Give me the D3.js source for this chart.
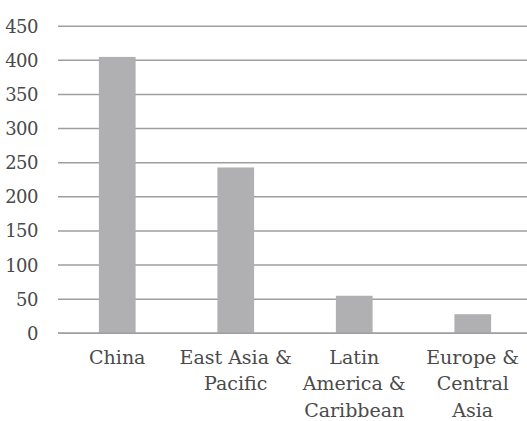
<!DOCTYPE html>
<html lang="en">
  <head>
    <meta charset="UTF-8" />
    <title>Bar chart</title>
    <script src="https://cdn.jsdelivr.net/npm/d3@7"></script>
    <style>
      body { margin: 0; background: #fff; }
      text { font-family: "DejaVu Serif", "Liberation Serif", serif; fill: #4a4a4a; }
    </style>
  </head>
  <body>
    <svg width="527" height="421"></svg>
    <script>
      // data
      var categories = [
        ["China"],
        ["East Asia &", "Pacific"],
        ["Latin", "America &", "Caribbean"],
        ["Europe &", "Central", "Asia"]
      ];
      var values = [405, 243, 55, 28];
      var yTicks = [0, 50, 100, 150, 200, 250, 300, 350, 400, 450];

      var svg = d3.select("svg");

      var x = d3.scaleBand()
        .domain(d3.range(categories.length))
        .range([58, 532])
        .paddingInner(0.69)
        .paddingOuter(0.345);

      var y = d3.scaleLinear()
        .domain([0, 450])
        .range([333.3, 26.2]);

      // grid lines
      svg.append("g")
        .selectAll("line")
        .data(yTicks)
        .enter()
        .append("line")
        .attr("x1", 58)
        .attr("x2", 527)
        .attr("y1", d => y(d))
        .attr("y2", d => y(d))
        .attr("stroke", "#9e9e9e")
        .attr("stroke-width", 1.4);

      // y labels
      svg.append("g")
        .selectAll("text")
        .data(yTicks)
        .enter()
        .append("text")
        .attr("x", 38)
        .attr("y", d => y(d))
        .attr("dy", "0.36em")
        .attr("text-anchor", "end")
        .attr("font-size", 18)
        .attr("letter-spacing", -0.5)
        .text(d => d);

      // bars
      svg.append("g")
        .selectAll("rect")
        .data(values)
        .enter()
        .append("rect")
        .attr("x", (d, i) => x(i))
        .attr("width", x.bandwidth())
        .attr("y", d => y(d))
        .attr("height", d => y(0) - y(d))
        .attr("fill", "#b0b0b2");

      // redraw baseline over bars
      svg.append("line")
        .attr("x1", 58)
        .attr("x2", 527)
        .attr("y1", y(0))
        .attr("y2", y(0))
        .attr("stroke", "#9e9e9e")
        .attr("stroke-width", 1.4);

      // category labels
      var lab = svg.append("g")
        .selectAll("text")
        .data(categories)
        .enter()
        .append("text")
        .attr("text-anchor", "middle")
        .attr("font-size", 19);

      lab.selectAll("tspan")
        .data((d, i) => d.map(s => ({ s: s, i: i })))
        .enter()
        .append("tspan")
        .attr("x", d => x(d.i) + x.bandwidth() / 2)
        .attr("y", (d, j) => 364 + j * 26.3)
        .text(d => d.s);
    </script>
  </body>
</html>
